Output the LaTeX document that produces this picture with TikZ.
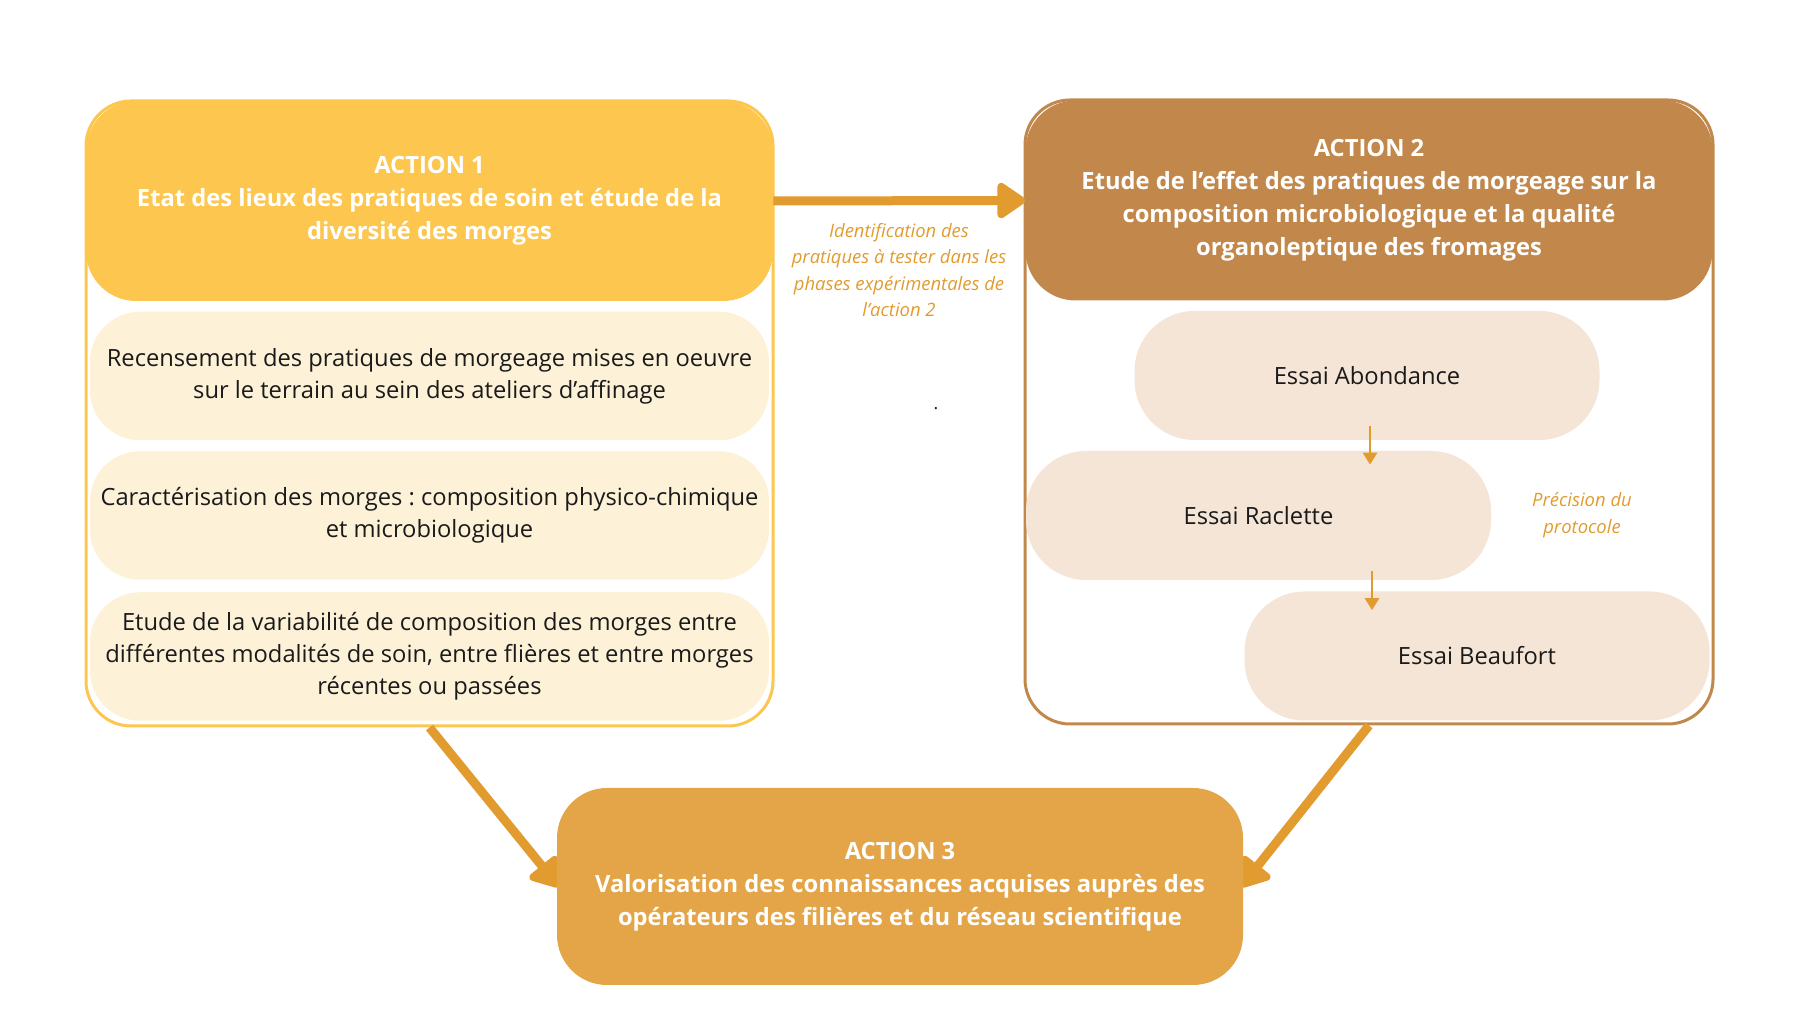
\documentclass[tikz,border=0pt]{standalone}
\usepackage{fontspec}
\setmainfont{Open Sans}
\usetikzlibrary{arrows.meta}
\definecolor{actone}{RGB}{253,198,78}
\definecolor{acttwo}{RGB}{194,136,75}
\definecolor{actthree}{RGB}{227,165,71}
\definecolor{creamone}{RGB}{253,242,216}
\definecolor{creamtwo}{RGB}{244,229,214}
\definecolor{arrowcol}{RGB}{225,155,47}
\definecolor{textcol}{RGB}{26,26,26}
\frenchspacing

\begin{document}
\begin{tikzpicture}[scale=1,
  frame/.style={draw, line width=0.06cm, rounded corners=0.9cm, inner sep=0pt},
  actionhead/.style={fill=#1, rounded corners=1cm, inner sep=0pt, text=white, align=center,
    font=\bfseries\fontsize{13.5}{18.8}\selectfont, minimum width=13.74cm, minimum height=4cm},
  subbox/.style={fill=#1, rounded corners=1cm, inner sep=0pt, text=textcol, align=center,
    font=\fontsize{13.5}{18.3}\selectfont, minimum width=13.58cm, minimum height=2.57cm},
  essaibox/.style={fill=creamtwo, rounded corners=1.2cm, inner sep=0pt, text=textcol,
    font=\fontsize{13.5}{18.3}\selectfont, minimum width=9.3cm, minimum height=2.58cm},
  note/.style={text=arrowcol, align=center, font=\itshape\fontsize{10.5}{15}\selectfont},
  bigarrow/.style={draw=arrowcol, line width=0.18cm, -{Triangle[length=0.62cm, width=0.8cm, round]}},
  smallarrow/.style={draw=arrowcol, line width=0.055cm, -{Triangle[length=0.24cm, width=0.28cm]}}]
  \useasboundingbox (0,0) rectangle (36,20.24);

  % Coordinates
  \coordinate (A1) at (8.59, 11.97);
  \coordinate (H1) at (8.59, 16.22);
  \coordinate (S1) at (8.59, 12.72);
  \coordinate (S2) at (8.59, 9.93);
  \coordinate (S3) at (8.59, 7.11);
  \coordinate (A2) at (27.38, 12.00);
  \coordinate (H2) at (27.38, 16.23);
  \coordinate (E1) at (27.34, 12.73);
  \coordinate (E2) at (25.17, 9.93);
  \coordinate (E3) at (29.54, 7.12);
  \coordinate (P) at (31.64, 9.94);
  \coordinate (A3) at (18.00, 2.51);
  \coordinate (L) at (17.98, 14.84);
  \coordinate (D) at (18.72, 12.06);
  \coordinate (tipL) at (11.18, 2.50);
  \coordinate (tipR) at (24.82, 2.50);

  % Action 1
  \node[frame, draw=actone, minimum width=13.74cm, minimum height=12.50cm] (act1frame) at (A1) {};
  \node[actionhead=actone] (act1head) at (H1) {ACTION 1\\Etat des lieux des pratiques de soin et étude de la\\diversité des morges};
  \node[subbox=creamone] (recens) at (S1) {Recensement des pratiques de morgeage mises en oeuvre\\sur le terrain au sein des ateliers d’affinage};
  \node[subbox=creamone] (caract) at (S2) {Caractérisation des morges : composition physico-chimique\\et microbiologique};
  \node[subbox=creamone] (variab) at (S3) {Etude de la variabilité de composition des morges entre\\différentes modalités de soin, entre flières et entre morges\\récentes ou passées};

  % Action 2
  \node[frame, draw=acttwo, minimum width=13.76cm, minimum height=12.48cm] (act2frame) at (A2) {};
  \node[actionhead=acttwo] (act2head) at (H2) {ACTION 2\\Etude de l’effet des pratiques de morgeage sur la\\composition microbiologique et la qualité\\organoleptique des fromages};
  \node[essaibox] (abond) at (E1) {Essai Abondance};
  \node[essaibox] (raclet) at (E2) {Essai Raclette};
  \node[essaibox] (beauf) at (E3) {Essai Beaufort};
  \node[note] (precis) at (P) {Précision du\\protocole};
  \draw[smallarrow, shorten <=-0.28cm, shorten >=-0.28cm] ([xshift=0.06cm]abond.south) -- ([xshift=0.06cm]abond.south |- raclet.north);
  \draw[smallarrow, shorten <=-0.18cm, shorten >=-0.38cm] ([xshift=0.1cm]abond.south |- raclet.south) -- ([xshift=0.1cm]abond.south |- beauf.north);

  % Between actions
  \node[note] (ident) at (L) {Identification des\\pratiques à tester dans les\\phases expérimentales de\\l’action 2};
  \node[text=textcol, font=\fontsize{10}{12}\selectfont] (dot) at (D) {.};
  \draw[bigarrow] (act1head.east) -- (act2head.west);
  \draw[bigarrow] (act1frame.south) -- (tipL);
  \draw[bigarrow] (act2frame.south) -- (tipR);

  % Action 3
  \node[actionhead=actthree, minimum width=13.72cm, minimum height=3.94cm] (act3) at (A3) {ACTION 3\\Valorisation des connaissances acquises auprès des\\opérateurs des filières et du réseau scientifique};
\end{tikzpicture}
\end{document}
